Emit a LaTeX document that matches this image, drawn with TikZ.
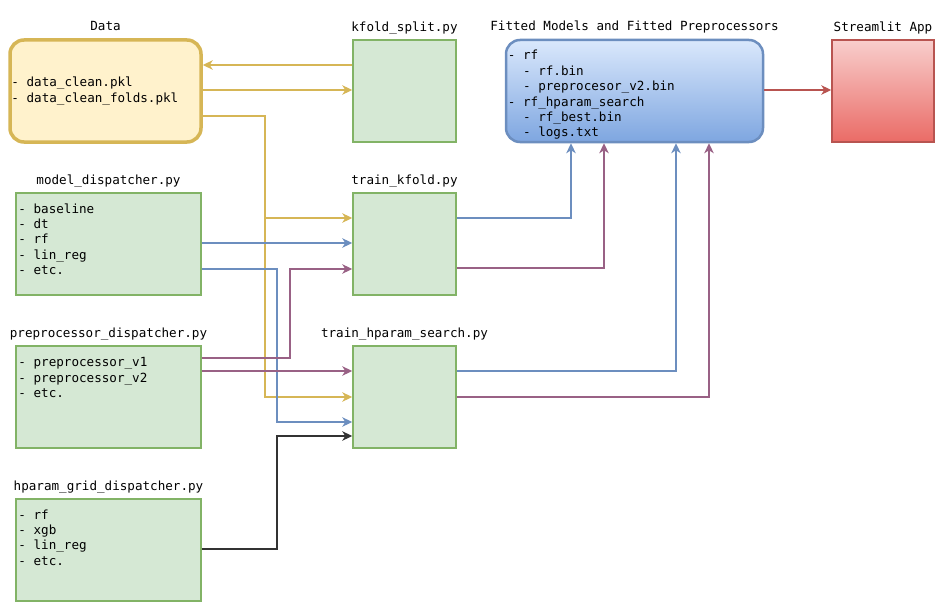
\documentclass[tikz,border=0pt]{standalone}
\usepackage{fontspec}
\setmainfont{DejaVu Sans Mono}
\usetikzlibrary{arrows.meta,positioning}

\definecolor{greenfill}{HTML}{D5E8D4}
\definecolor{greenline}{HTML}{82B366}
\definecolor{yelfill}{HTML}{FFF2CC}
\definecolor{yelline}{HTML}{D6B656}
\definecolor{bluetop}{HTML}{DAE8FC}
\definecolor{bluebot}{HTML}{7EA6E0}
\definecolor{blueline}{HTML}{6C8EBF}
\definecolor{redtop}{HTML}{F8CECC}
\definecolor{redbot}{HTML}{EA6B66}
\definecolor{redline}{HTML}{B85450}
\definecolor{purpline}{HTML}{996185}
\definecolor{darkline}{HTML}{333333}

\begin{document}
\begin{tikzpicture}[x=1pt, y=-1pt,
    font=\fontsize{12.6}{15.4}\selectfont,
    pybox/.style={draw=greenline, fill=greenfill, line width=1.5pt, minimum height=102pt},
    ttl/.style={text height=9pt, text depth=3pt, inner sep=1pt},
    lst/.style={align=left, inner sep=0pt},
    conn/.style={line width=1.3pt, -{Stealth[length=10pt, width=9.5pt, inset=3pt]}}]
                \useasboundingbox (0,0) rectangle (947,615);

                % Top row: data, split script, fitted artefacts, app
                \node (data) [draw=yelline, fill=yelfill, line width=3.5pt, rounded corners=14pt,
                    minimum width=191pt, minimum height=102pt] at (105.5,91) {};
                \node (ks) [pybox, minimum width=103pt] at (404.5,91) {};
                \node (fit) [draw=blueline, top color=bluetop, bottom color=bluebot, line width=2.5pt,
                    rounded corners=14pt, minimum width=257pt, minimum height=102pt] at (634.5,91) {};
                \node (app) [draw=redline, top color=redtop, bottom color=redbot, line width=1.5pt,
                    minimum width=102pt, minimum height=102pt] at (883,91) {};

                % Dispatchers (left) and training scripts (middle)
                \node (md) [pybox, minimum width=185pt] at (108.5,244) {};
                \node (tk) [pybox, minimum width=103pt] at (404.5,244) {};
                \node (pd) [pybox, minimum width=185pt] at (108.5,397) {};
                \node (th) [pybox, minimum width=103pt] at (404.5,397) {};
                \node (hg) [pybox, minimum width=185pt] at (108.5,550) {};

                % Titles
                \node (data-t) [ttl, above=4pt of data] {Data};
                \node (ks-t) [ttl, above=4pt of ks] {kfold\_split.py};
                \node (fit-t) [ttl, above=4pt of fit] {Fitted Models and Fitted Preprocessors};
                \node (app-t) [ttl, above=4pt of app] {Streamlit App};
                \node (md-t) [ttl, above=4pt of md] {model\_dispatcher.py};
                \node (tk-t) [ttl, above=4pt of tk] {train\_kfold.py};
                \node (pd-t) [ttl, above=4pt of pd] {preprocessor\_dispatcher.py};
                \node (th-t) [ttl, above=4pt of th] {train\_hparam\_search.py};
                \node (hg-t) [ttl, above=4pt of hg] {hparam\_grid\_dispatcher.py};

                % Box contents
                \node (data-l) [lst, anchor=west] at ([xshift=3pt]data.west)
                    {- data\_clean.pkl\\- data\_clean\_folds.pkl};
                \node (fit-l) [lst, anchor=west] at ([xshift=3pt, yshift=-4pt]fit.west)
                    {- rf\\\ \ - rf.bin\\\ \ - preprocesor\_v2.bin\\- rf\_hparam\_search\\\ \ - rf\_best.bin\\\ \ - logs.txt};
                \node (md-l) [lst, anchor=north west] at ([xshift=3pt, yshift=-11pt]md.north west)
                    {- baseline\\- dt\\- rf\\- lin\_reg\\- etc.};
                \node (pd-l) [lst, anchor=north west] at ([xshift=3pt, yshift=-12pt]pd.north west)
                    {- preprocessor\_v1\\- preprocessor\_v2\\- etc.};
                \node (hg-l) [lst, anchor=north west] at ([xshift=3pt, yshift=-11pt]hg.north west)
                    {- rf\\- xgb\\- lin\_reg\\- etc.};

                % Data connectors
                \draw[conn, yelline] (ks.west |- 0,65) -- (data.east |- 0,65);
                \draw[conn, yelline] (data.east |- 0,90) -- (ks.west |- 0,90);
                \draw[conn, yelline] (data.east |- 0,116) -| (265,218) -- (tk.west |- 0,218);
                \draw[conn, yelline] (265,218) -- (265,397) -- (th.west |- 0,397);

                % Inputs to the training scripts
                \draw[conn, blueline] (md.east |- 0,243) -- (tk.west |- 0,243);
                \draw[conn, blueline] (md.east |- 0,269) -| (277,422) -- (th.west |- 0,422);
                \draw[conn, purpline] (pd.east |- 0,358) -| (290,269) -- (tk.west |- 0,269);
                \draw[conn, purpline] (pd.east |- 0,371) -- (th.west |- 0,371);
                \draw[conn, darkline] (hg.east |- 0,549) -| (277,436) -- (th.west |- 0,436);

                % Outputs
                \draw[conn, blueline] (tk.east |- 0,218) -| (fit.south -| 571,0);
                \draw[conn, purpline] (tk.east |- 0,268) -| (fit.south -| 604,0);
                \draw[conn, blueline] (th.east |- 0,371) -| (fit.south -| 676,0);
                \draw[conn, purpline] (th.east |- 0,397) -| (fit.south -| 709,0);
                \draw[conn, redline] (fit.east |- 0,90) -- (app.west |- 0,90);
\end{tikzpicture}
\end{document}
